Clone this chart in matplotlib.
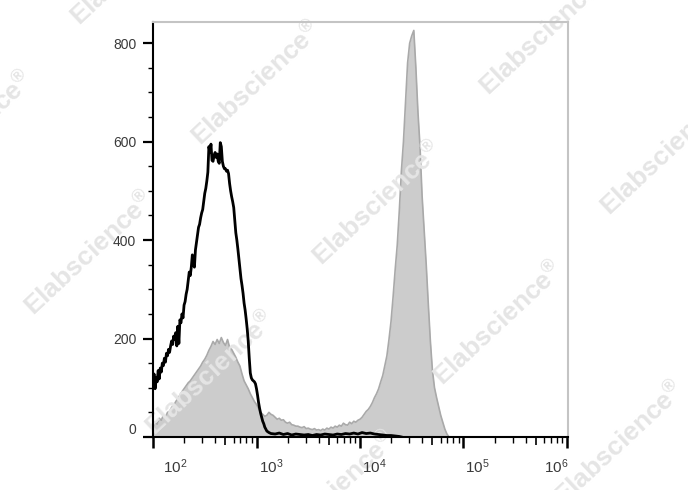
import numpy as np
import matplotlib
matplotlib.use("Agg")
import matplotlib.pyplot as plt
from matplotlib.ticker import FixedLocator, NullFormatter
from matplotlib.transforms import offset_copy

plt.rcParams["font.family"] = ["Liberation Sans", "DejaVu Sans"]
plt.rcParams["mathtext.default"] = "regular"

# black open histogram (control), x as log10 of fluorescence
ctrl_logx = [2.00, 2.01, 2.02, 2.03, 2.04, 2.05, 2.06, 2.07, 2.08, 2.09,
             2.10, 2.11, 2.12, 2.13, 2.14, 2.15, 2.16, 2.17, 2.18, 2.19,
             2.20, 2.21, 2.22, 2.23, 2.24, 2.25, 2.26, 2.27, 2.28, 2.29,
             2.30, 2.31, 2.32, 2.33, 2.34, 2.35, 2.36, 2.37, 2.38, 2.39,
             2.40, 2.41, 2.42, 2.43, 2.44, 2.45, 2.46, 2.47, 2.48, 2.49,
             2.50, 2.51, 2.52, 2.53, 2.54, 2.55, 2.56, 2.57, 2.58, 2.59,
             2.60, 2.61, 2.62, 2.63, 2.64, 2.65, 2.66, 2.67, 2.68, 2.69,
             2.70, 2.71, 2.72, 2.73, 2.74, 2.75, 2.76, 2.77, 2.78, 2.79,
             2.80, 2.81, 2.82, 2.83, 2.84, 2.85, 2.86, 2.87, 2.88, 2.89,
             2.90, 2.91, 2.92, 2.93, 2.94, 2.95, 2.96, 2.97, 2.98, 2.99,
             3.00, 3.01, 3.02, 3.03, 3.04, 3.05, 3.06, 3.07, 3.08, 3.09,
             3.10, 3.12, 3.14, 3.18, 3.22, 3.26, 3.30, 3.34, 3.38, 3.42,
             3.46, 3.50, 3.54, 3.58, 3.62, 3.66, 3.70, 3.74, 3.78, 3.82,
             3.86, 3.90, 3.94, 3.98, 4.02, 4.06, 4.10, 4.14, 4.18, 4.22,
             4.26, 4.30, 4.34, 4.38, 4.40]
ctrl_count = [105, 128, 98, 120, 112, 135, 118, 140, 132, 150,
              145, 160, 152, 170, 165, 178, 172, 185, 195, 188,
              205, 198, 212, 185, 225, 190, 238, 232, 250, 242,
              268, 275, 290, 300, 318, 335, 328, 345, 370, 352,
              345, 380, 395, 410, 426, 432, 445, 455, 462, 478,
              495, 505, 520, 538, 590, 578, 595, 562, 560, 572,
              578, 568, 575, 560, 556, 598, 590, 560, 550, 545,
              545, 540, 542, 535, 515, 500, 488, 478, 466, 440,
              415, 400, 382, 362, 340, 322, 308, 292, 272, 258,
              240, 220, 195, 160, 130, 120, 116, 114, 112, 108,
              98, 85, 70, 58, 48, 40, 32, 27, 20, 16,
              12, 9, 7, 6, 8, 5, 7, 4, 6, 5,
              4, 5, 3, 5, 4, 6, 5, 4, 6, 5,
              7, 6, 8, 6, 9, 7, 8, 6, 5, 4,
              3, 3, 2, 1, 0]

# grey filled histogram (stained sample)
stain_logx = [2.00, 2.02, 2.04, 2.06, 2.08, 2.10, 2.12, 2.14, 2.16, 2.18,
              2.20, 2.22, 2.24, 2.26, 2.28, 2.30, 2.32, 2.34, 2.36, 2.38,
              2.40, 2.42, 2.44, 2.46, 2.48, 2.50, 2.52, 2.54, 2.56, 2.58,
              2.60, 2.62, 2.64, 2.66, 2.68, 2.70, 2.72, 2.74, 2.76, 2.78,
              2.80, 2.82, 2.84, 2.86, 2.88, 2.90, 2.92, 2.94, 2.96, 2.98,
              3.00, 3.02, 3.04, 3.06, 3.08, 3.10, 3.12, 3.14, 3.16, 3.18,
              3.20, 3.22, 3.24, 3.26, 3.28, 3.30, 3.32, 3.34, 3.36, 3.38,
              3.40, 3.42, 3.44, 3.46, 3.48, 3.50, 3.52, 3.54, 3.56, 3.58,
              3.60, 3.62, 3.64, 3.66, 3.68, 3.70, 3.72, 3.74, 3.76, 3.78,
              3.80, 3.82, 3.84, 3.86, 3.88, 3.90, 3.92, 3.94, 3.96, 3.98,
              4.00, 4.02, 4.04, 4.06, 4.08, 4.10, 4.12, 4.14, 4.16, 4.18,
              4.20, 4.22, 4.24, 4.26, 4.28, 4.30, 4.32, 4.34, 4.36, 4.38,
              4.40, 4.42, 4.44, 4.46, 4.48, 4.50, 4.52, 4.54, 4.56, 4.58,
              4.60, 4.62, 4.64, 4.66, 4.68, 4.70, 4.72, 4.74, 4.76, 4.78,
              4.80, 4.82, 4.84, 4.86]
stain_count = [22, 30, 26, 38, 34, 44, 40, 50, 52, 60,
               64, 72, 78, 85, 92, 98, 104, 110, 114, 120,
               126, 132, 138, 144, 152, 158, 166, 176, 184, 194,
               188, 198, 190, 202, 192, 186, 198, 182, 178, 170,
               162, 152, 144, 128, 114, 106, 98, 88, 80, 72,
               66, 58, 50, 46, 42, 44, 50, 46, 44, 40,
               36, 38, 34, 35, 30, 28, 30, 25, 24, 22,
               22, 20, 19, 21, 17, 18, 16, 15, 17, 14,
               15, 13, 16, 14, 18, 16, 20, 18, 22, 20,
               24, 22, 28, 25, 24, 30, 27, 32, 30, 34,
               36, 40, 46, 52, 56, 62, 70, 80, 88, 98,
               112, 125, 145, 165, 198, 235, 285, 340, 390, 460,
               540, 600, 680, 760, 800, 815, 826, 750, 660, 590,
               490, 420, 350, 270, 195, 135, 100, 80, 62, 44,
               30, 16, 6, 0]

decades = [2, 3, 4, 5, 6]
y_major = [0, 200, 400, 600, 800]
y_minor = [50, 100, 150, 250, 300, 350, 450, 500, 550, 650, 700, 750]

fig = plt.figure(figsize=(6.88, 4.90), dpi=100)
ax = fig.add_axes([0.2224, 0.1082, 0.6032, 0.8468])

sx = 10 ** np.array(stain_logx)
ax.fill_between(sx, stain_count, 0, color="#cccccc", lw=0, zorder=1)
ax.plot(sx, stain_count, color="#a9a9a9", lw=1.2, zorder=1.2)
ax.plot(10 ** np.array(ctrl_logx), ctrl_count, color="black", lw=2.0, zorder=2)

ax.set_xscale("log")
ax.set_xlim(100, 10 ** 6.01)
ax.set_ylim(0, 843)

# spines
for s in ["left", "bottom"]:
    ax.spines[s].set_color("black")
    ax.spines[s].set_linewidth(1.5)
for s in ["top", "right"]:
    ax.spines[s].set_color("#c4c4c4")
    ax.spines[s].set_linewidth(1.5)

# y ticks
ax.yaxis.set_major_locator(FixedLocator(y_major))
ax.yaxis.set_minor_locator(FixedLocator(y_minor))
ax.tick_params(axis="y", which="major", length=7, width=1.6, pad=5,
               labelsize=10, labelcolor="#3a3a3a", direction="out")
ax.tick_params(axis="y", which="minor", length=3.5, width=1.0, direction="out")
ax.yaxis.get_major_ticks()[0].label1.set_va("bottom")

# x ticks: decades long, 5x medium, the rest short
fives = [5 * 10 ** d for d in decades[:-1]]
x_major = sorted([10 ** d for d in decades] + fives)
x_minor = [m * 10 ** d for d in decades[:-1] for m in [2, 3, 4, 6, 7, 8, 9]]
ax.xaxis.set_major_locator(FixedLocator(x_major))
ax.xaxis.set_minor_locator(FixedLocator(x_minor))
ax.xaxis.set_major_formatter(NullFormatter())
ax.xaxis.set_minor_formatter(NullFormatter())
ax.tick_params(axis="x", which="major", length=8, width=1.8, direction="out")
ax.tick_params(axis="x", which="minor", length=4, width=1.0, direction="out")
for tick, loc in zip(ax.xaxis.get_major_ticks(len(x_major)), x_major):
    if loc in fives:
        tick.tick1line.set_markersize(5.5)
        tick.tick1line.set_markeredgewidth(1.2)

# decade labels
base = ax.get_xaxis_transform()
for d in decades:
    if d == decades[0]:
        tr = offset_copy(base, fig=fig, x=10, y=-20, units="dots")
        ha = "left"
    elif d == decades[-1]:
        tr = offset_copy(base, fig=fig, x=1, y=-20, units="dots")
        ha = "right"
    else:
        tr = offset_copy(base, fig=fig, x=2, y=-20, units="dots")
        ha = "left"
    ax.text(10 ** d, 0, "$10^{%d}$" % d, transform=tr, ha=ha, va="top",
            fontsize=11, color="#3a3a3a", clip_on=False)

# watermark lattice
W, H = 688, 490
for i in range(-3, 4):
    for j in range(-2, 4):
        px = 257 + i * 121 + j * 167
        py = 84 + i * 120 - j * 170
        if -120 < px < W + 120 and -120 < py < H + 30:
            ax.text(px / W, 1 - py / H, "Elabscience$^{®}$",
                    transform=fig.transFigure, rotation=43,
                    ha="center", va="center", rotation_mode="anchor",
                    fontsize=19, fontweight="bold", color="#e5e5e5",
                    zorder=1.5, clip_on=False)

fig.savefig("out.png", dpi=100)
